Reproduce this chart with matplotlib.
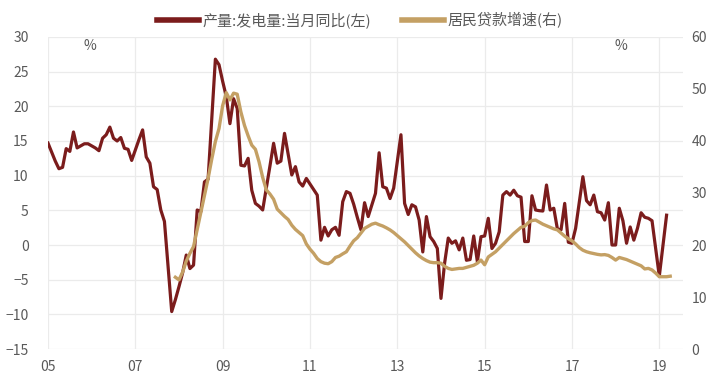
import matplotlib
matplotlib.use('Agg')
import matplotlib.pyplot as plt
import numpy as np

plt.rcParams['font.family'] = ['Noto Sans CJK SC', 'DejaVu Sans']

# 产量:发电量:当月同比 (%), 月度, 从第0个月起
fadian = [14.7, 13.4, 12.1, 11.0, 11.2, 13.9, 13.5, 16.3, 14.0, 14.3,
          14.6, 14.6, 14.3, 14.0, 13.6, 15.4, 15.9, 17.0, 15.4, 15.0,
          15.5, 13.95, 13.8, 12.2, 13.7, 15.2, 16.6, 12.7, 11.8, 8.4,
          8.0, 5.05, 3.4, -3.1, -9.6, -7.9, -6.0, -4.0, -1.45, -3.4,
          -2.9, 5.05, 4.8, 9.1, 9.5, 18.2, 26.8, 26.0, 23.6, 21.4,
          17.5, 21.1, 19.7, 11.5, 11.4, 12.5, 7.9, 6.0, 5.6, 5.05,
          8.2, 11.4, 14.67, 11.8, 12.1, 16.1, 13.1, 10.1, 11.3, 9.1,
          8.5, 9.6, 8.8, 8.0, 7.2, 0.7, 2.55, 1.3, 2.2, 2.55,
          1.4, 6.25, 7.7, 7.45, 5.9, 4.0, 2.2, 6.1, 4.1, 5.8,
          7.45, 13.3, 8.4, 8.2, 6.7, 8.2, 12.0, 15.9, 6.0, 4.4,
          5.8, 5.5, 3.6, -1.0, 4.1, 1.2, 0.5, -0.5, -7.7, -2.6,
          1.0, 0.25, 0.6, -0.7, 1.0, -2.2, -2.1, 1.3, -2.4, 1.2,
          1.3, 3.85, -0.5, 0.25, 1.9, 7.2, 7.7, 7.2, 7.9, 7.1,
          6.9, 0.5, 0.5, 7.1, 5.05, 4.95, 4.9, 8.65, 5.05, 5.3,
          2.3, 2.2, 6.0, 0.4, 0.25, 2.4, 6.1, 9.85, 6.4, 5.8,
          7.2, 4.8, 4.65, 3.6, 6.1, 0.0, 0.0, 5.3, 3.5, 0.25,
          2.6, 0.7, 2.4, 4.65, 4.0, 3.85, 3.5, -0.5, -4.5, -0.1,
          4.3]

# 居民贷款增速 (%), 从第35个月开始
daikuan_start = 35
daikuan = [13.8, 13.3, 14.8, 16.9, 18.4, 19.7, 23.0, 26.4, 29.6, 32.8,
           36.5, 39.9, 42.4, 46.8, 49.3, 47.9, 49.2, 49.0, 45.6, 43.0,
           41.0, 39.2, 38.4, 36.0, 33.0, 30.6, 29.8, 28.8, 26.9, 26.2,
           25.5, 24.9, 23.8, 23.0, 22.4, 21.8, 20.2, 19.2, 18.4, 17.4,
           16.8, 16.5, 16.4, 16.8, 17.6, 17.85, 18.3, 18.7, 19.8, 20.8,
           21.4, 22.3, 23.2, 23.6, 24.0, 24.2, 23.9, 23.65, 23.3, 22.9,
           22.4, 21.8, 21.2, 20.6, 19.9, 19.2, 18.5, 17.9, 17.4, 17.0,
           16.7, 16.6, 16.6, 16.5, 15.9, 15.5, 15.3, 15.4, 15.5, 15.5,
           15.7, 15.9, 16.1, 16.5, 17.1, 16.2, 17.7, 18.2, 18.7, 19.4,
           20.1, 20.8, 21.5, 22.2, 22.8, 23.4, 23.6, 24.3, 24.7, 24.8,
           24.4, 24.0, 23.7, 23.4, 23.1, 22.9, 22.3, 21.7, 21.2, 20.8,
           20.2, 19.5, 19.0, 18.7, 18.5, 18.35, 18.2, 18.1, 18.15, 18.0,
           17.6, 17.1, 17.6, 17.4, 17.2, 16.9, 16.6, 16.3, 16.0, 15.4,
           15.5, 15.2, 14.6, 13.9, 13.9, 13.9, 14.0]

year_labels = ['05', '07', '09', '11', '13', '15', '17', '19']

red = '#7b1c1c'
tan = '#c4a064'
txt = '#595959'

fig = plt.figure(figsize=(7.24, 3.91), dpi=100)
ax = fig.add_axes([0.0663, 0.1074, 0.877, 0.798])
ax2 = ax.twinx()

x1 = np.arange(len(fadian))
x2 = np.arange(daikuan_start, daikuan_start + len(daikuan))
l1, = ax.plot(x1, fadian, color=red, lw=2.3, solid_joinstyle='round')
l2, = ax2.plot(x2, daikuan, color=tan, lw=2.4, solid_joinstyle='round')

ax.set_xlim(0, 174.5)
ax.set_ylim(-15, 30)
ax.set_yticks(np.arange(-15, 31, 5))
ax2.set_ylim(0, 60)
ax2.set_yticks(np.arange(0, 61, 10))
ax.set_xticks(np.arange(0, 169, 24))
ax.set_xticklabels(year_labels)

ax.grid(True, color='#ebebeb', lw=0.9)
ax.set_axisbelow(True)
for a in (ax, ax2):
    for s in a.spines.values():
        s.set_visible(False)
    a.tick_params(length=0, labelsize=10, colors=txt)
ax.tick_params(axis='y', pad=14)
ax.tick_params(axis='x', pad=8)
ax2.tick_params(axis='y', pad=6)

ax.text(0.066, 0.995, '%', transform=ax.transAxes, fontsize=10, color=txt,
        ha='center', va='top')
ax.text(0.903, 0.995, '%', transform=ax.transAxes, fontsize=10, color=txt,
        ha='center', va='top')

fig.legend([l1, l2], ['产量:发电量:当月同比(左)', '居民贷款增速(右)'],
           loc='center', bbox_to_anchor=(0.497, 0.949), ncol=2, frameon=False,
           fontsize=10.8, handlelength=2.8, columnspacing=2.0, handletextpad=0.25,
           labelcolor=txt)
for h in fig.legends[0].get_lines():
    h.set_linewidth(4)

fig.savefig('out.png', dpi=100)
